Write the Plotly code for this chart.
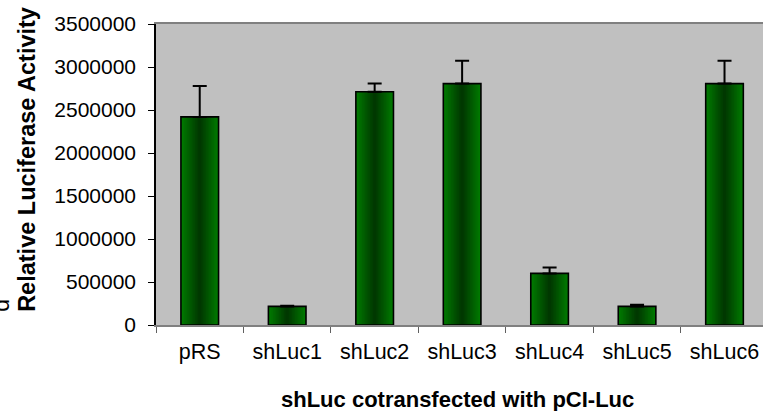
import plotly.graph_objects as go

categories = ["pRS", "shLuc1", "shLuc2", "shLuc3", "shLuc4", "shLuc5", "shLuc6"]
values = [2420000, 216000, 2713000, 2807000, 600000, 216000, 2807000]
errors = [360000, 8000, 94000, 265000, 69000, 20000, 265000]
y_ticks = [0, 500000, 1000000, 1500000, 2000000, 2500000, 3000000, 3500000]

FONT = "Liberation Sans, Arial, sans-serif"
BAR_W = 0.43

fig = go.Figure()

# cylinder-like shading: bright edges, dark centre
n_layers = 12
edge = (0, 122, 0)
centre = (0, 56, 0)
for i in range(n_layers):
    t = i / (n_layers - 1)
    w = BAR_W * (1 - t * 0.92)
    c = tuple(int(round(edge[k] + (centre[k] - edge[k]) * t)) for k in range(3))
    fig.add_trace(go.Bar(
        x=categories, y=values, width=w,
        marker=dict(color=f"rgb{c}", line=dict(width=0)),
        showlegend=False, hoverinfo="skip",
    ))

fig.add_trace(go.Bar(
    x=categories, y=values, width=BAR_W,
    marker=dict(color="rgba(0,0,0,0)", line=dict(color="black", width=1.6)),
    error_y=dict(type="data", symmetric=False, array=errors,
                 arrayminus=[0] * len(errors), color="black",
                 thickness=2, width=7),
    showlegend=False,
))

fig.update_layout(
    width=763, height=411,
    margin=dict(l=156, r=0, t=24, b=86),
    barmode="overlay",
    paper_bgcolor="white",
    plot_bgcolor="#c0c0c0",
    font=dict(family=FONT, color="black", size=20),
    xaxis=dict(
        range=[-0.5, 6.44], type="category",
        showline=True, linecolor="#808080", linewidth=2, mirror=True,
        ticks="outside", tickson="boundaries", ticklen=6, tickcolor="#606060",
        tickfont=dict(size=21.5, family=FONT), showgrid=False,
        ticklabelstandoff=6,
    ),
    yaxis=dict(
        range=[0, 3500000], tickvals=y_ticks,
        ticktext=[str(v) for v in y_ticks],
        showline=True, linecolor="black", linewidth=1.5,
        ticks="outside", ticklen=6, tickcolor="black",
        tickfont=dict(size=21, family=FONT), showgrid=False, zeroline=False,
        ticklabelstandoff=8,
    ),
    annotations=[
        dict(text="<b>Relative Luciferase Activity</b>", textangle=-90,
             xref="paper", yref="paper", x=(27 - 156) / 607, y=(325.3 - 160) / 301.3,
             xanchor="center", yanchor="middle", showarrow=False,
             font=dict(size=23.5, family=FONT)),
        dict(text="<b>shLuc cotransfected with pCI-Luc</b>",
             xref="paper", yref="paper", x=(457 - 156) / 607, y=(325.3 - 400) / 301.3,
             xanchor="center", yanchor="middle", showarrow=False,
             font=dict(size=22, family=FONT)),
        dict(text="d", textangle=-90,
             xref="paper", yref="paper", x=(1 - 156) / 607, y=(325.3 - 306) / 301.3,
             xanchor="center", yanchor="middle", showarrow=False,
             font=dict(size=23, family=FONT)),
    ],
)

fig.write_html(
    "out.html",
    config={"displayModeBar": False},
    post_script="document.body.style.margin='0';document.body.style.overflow='hidden';",
)
